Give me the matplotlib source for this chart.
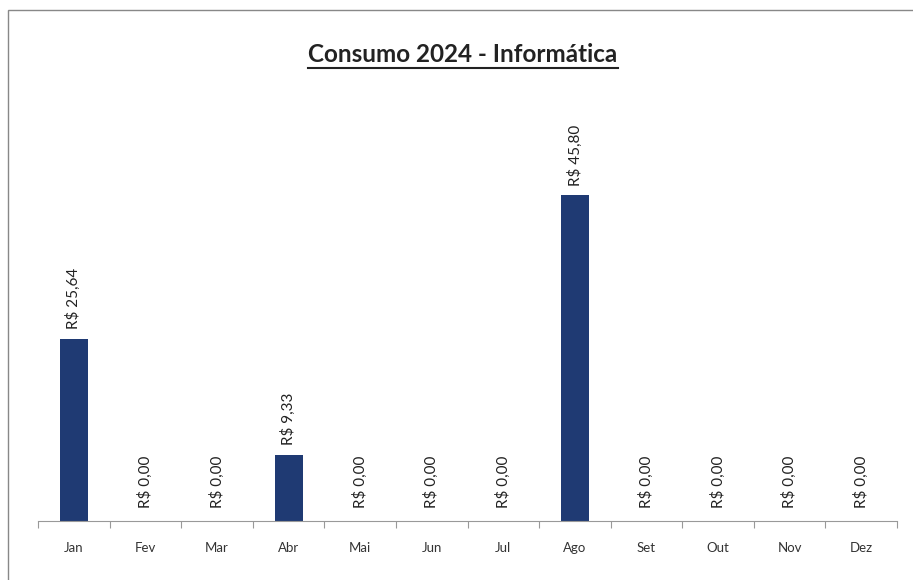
import matplotlib.pyplot as plt
from matplotlib.patches import Rectangle

months = ["Jan", "Fev", "Mar", "Abr", "Mai", "Jun",
          "Jul", "Ago", "Set", "Out", "Nov", "Dez"]
values = [25.64, 0, 0, 9.33, 0, 0, 0, 45.80, 0, 0, 0, 0]

BAR_COLOR = "#1F3A73"

plt.rcParams["font.family"] = ["Lato", "DejaVu Sans"]

fig = plt.figure(figsize=(9.13, 5.8), dpi=100)
ax = fig.add_axes([38 / 913, 1 - 521 / 580, (897 - 38) / 913, (521 - 80) / 580])

x = list(range(len(months)))
ax.bar(x, values, width=0.39, color=BAR_COLOR)

for xi, v in zip(x, values):
    label = "R$ " + f"{v:.2f}".replace(".", ",")
    ax.annotate(label, (xi, v), xytext=(0, 7 if v > 0 else 9),
                textcoords="offset points", rotation=90,
                ha="center", va="bottom", fontsize=11, color="#222222")

ax.set_xlim(-0.5, len(months) - 0.5)
ax.set_ylim(0, 62)
ax.set_xticks([i - 0.5 for i in range(len(months) + 1)])
ax.set_xticklabels([])
ax.set_xticks(x, minor=True)
ax.set_xticklabels(months, minor=True, fontsize=9.5, color="#333333")
ax.tick_params(axis="x", which="major", length=5, color="#999999", direction="out")
ax.tick_params(axis="x", which="minor", length=0, pad=15)
ax.set_yticks([])
for side in ["left", "right", "top"]:
    ax.spines[side].set_visible(False)
ax.spines["bottom"].set_color("#999999")

title = fig.text(463 / 913, 1 - 55 / 580, "Consumo 2024 - Informática",
                 ha="center", va="center", fontsize=17.5, fontweight="bold",
                 color="#222222")
fig.canvas.draw()
bb = title.get_window_extent().transformed(fig.transFigure.inverted())
fig.add_artist(plt.Line2D([bb.x0, bb.x1], [bb.y0 - 0.003, bb.y0 - 0.003],
                          transform=fig.transFigure, color="#222222", lw=1.5))

fig.add_artist(Rectangle((8 / 913, -0.1), 1, 1.1 - 10 / 580,
                         transform=fig.transFigure, fill=False,
                         edgecolor="#888888", lw=1))

fig.savefig("out.png", dpi=100)
